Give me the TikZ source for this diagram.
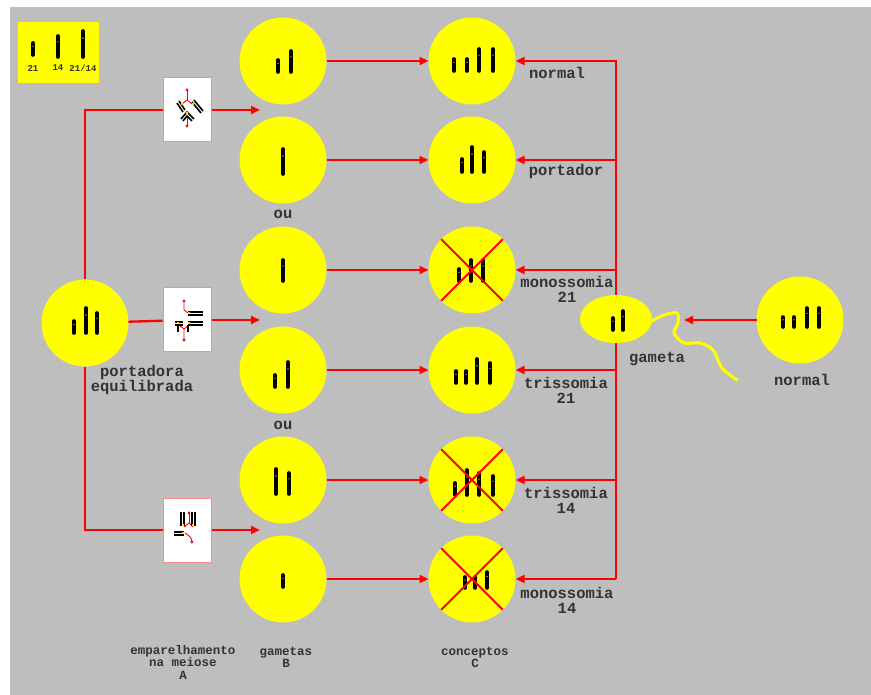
\documentclass[tikz,border=0pt]{standalone}
\usepackage{fontspec}
\setmonofont{Liberation Mono}
\usepackage{tikz}
\usetikzlibrary{positioning,arrows.meta,calc,shapes.geometric}

\definecolor{panel}{RGB}{190,190,190}
\definecolor{cellyellow}{RGB}{255,255,0}

% one chromosome: x, bottom y, length
\newcommand{\chromo}[3]{%
  \draw[line width=3.6pt,line cap=round] (#1,#2) -- ++(0,{-(#3)});
  \fill[yellow!60!black] (#1,#2) ++(0,{-0.72*(#3)}) circle (0.8pt);}

\begin{document}
\begin{tikzpicture}[x=1pt,y=-1pt,
  cell/.style={circle,fill=cellyellow,minimum size=87pt,inner sep=0pt,outer sep=0pt},
  meiobox/.style={draw=red!45,line width=1pt,fill=white,minimum width=48pt,minimum height=64pt,inner sep=0pt},
  link/.style={red,line width=2.3pt},
  arr/.style={link,-{Triangle[length=9pt,width=8pt]}},
  cross/.style={red,line width=1.8pt},
  lbl/.style={font=\fontsize{15.5}{15}\selectfont\ttfamily\bfseries,text=black!80,align=center,inner sep=0pt},
  coltext/.style={font=\fontsize{12.5}{12.5}\selectfont\ttfamily\bfseries,text=black!80,align=center,inner sep=0pt},
  keytext/.style={font=\fontsize{9}{9}\selectfont\ttfamily\bfseries,text=black!80,inner sep=0pt}]
  \useasboundingbox (0,0) rectangle (871,695);
  \fill[panel] (10,7) rectangle (871,695);

  % key: the three chromosome types
  \node[fill=cellyellow,minimum width=81pt,minimum height=61pt,inner sep=0pt] (key) at (58.5,52.5) {};
  \chromo{33}{55}{12}
  \chromo{58}{57}{21}
  \chromo{83}{57}{26}
  \node[keytext] (k21) at (33,68) {21};
  \node[keytext] (k14) at (58,68) {14};
  \node[keytext] (k2114) at (83,68) {21/14};

  % balanced carrier
  \node[cell] (pe) at (85,323) {};
  \node[lbl] (pelbl) at (142,380) {portadora\\equilibrada};

  % pairing in meiosis
  \node[meiobox] (m1) at (187,110) {};
  \node[meiobox] (m2) at (187,320) {};
  \node[meiobox] (m3) at (187,530) {};

  % gametes B
  \node[cell] (g1) at (283,61) {};
  \node[cell,below=12pt of g1] (g2) {};
  \node[cell,below=23pt of g2] (g3) {};
  \node[cell,below=13pt of g3] (g4) {};
  \node[cell,below=23pt of g4] (g5) {};
  \node[cell,below=12pt of g5] (g6) {};
  \node[lbl] (ou1) at (283,214) {ou};
  \node[lbl] (ou2) at (283,425) {ou};

  % conceptuses C
  \node[cell,right=102pt of g1] (c1) {};
  \node[cell,right=102pt of g2] (c2) {};
  \node[cell,right=102pt of g3] (c3) {};
  \node[cell,right=102pt of g4] (c4) {};
  \node[cell,right=102pt of g5] (c5) {};
  \node[cell,right=102pt of g6] (c6) {};

  % chromosomes in each cell
  \chromo{74}{333}{12} \chromo{86}{333}{25} \chromo{97}{333}{20}
  \chromo{278}{72}{12} \chromo{291}{72}{21}
  \chromo{283}{174}{25}
  \chromo{283}{281}{21}
  \chromo{275}{387}{12} \chromo{288}{387}{25}
  \chromo{276}{494}{25} \chromo{289}{494}{21}
  \chromo{283}{587}{12}
  \chromo{454}{71}{12} \chromo{467}{71}{12} \chromo{479}{71}{22} \chromo{493}{71}{22}
  \chromo{462}{172}{13} \chromo{472}{172}{25} \chromo{484}{172}{20}
  \chromo{459}{281}{12} \chromo{471}{281}{21} \chromo{483}{281}{21}
  \chromo{456}{383}{12} \chromo{466}{383}{12} \chromo{477}{383}{24} \chromo{490}{383}{20}
  \chromo{455}{495}{12} \chromo{467}{495}{25} \chromo{479}{495}{22} \chromo{493}{495}{19}
  \chromo{465}{588}{11} \chromo{475}{588}{11} \chromo{487}{588}{16}

  % non-viable conceptuses
  \foreach \c in {c3,c5,c6}{
    \draw[cross] (\c.north west) -- (\c.south east);
    \draw[cross] (\c.north east) -- (\c.south west);
  }

  % meiosis icons
  \begin{scope}[shift={(m1)}]
    \draw[red,line width=0.9pt,-{Triangle[length=3pt,width=3pt]}] (0,-10) -- (0,-22);
    \draw[red,line width=0.9pt] (-5,-6) -- (0,-10) -- (5,-6);
    \draw[red,line width=0.9pt,-{Triangle[length=3pt,width=3pt]}] (0,7) -- (0,18);
    \draw[line width=1.6pt] (-10,-7) -- (-4,2) (-8,-9) -- (-2,0);
    \draw[line width=1.6pt] (5,-8) -- (14,3) (7,-10) -- (16,1);
    \draw[line width=1.6pt] (-6,9) -- (0,2) -- (7,9) (-4,11) -- (0,6) -- (5,11);
    \fill[yellow] (-5,-6) circle (1.3pt) (6,-6) circle (1.3pt) (0,3) circle (1.3pt);
  \end{scope}
  \begin{scope}[shift={(m2)}]
    \draw[red,line width=0.9pt,-{Triangle[length=3pt,width=3pt]}] (1,-7) -- (-3,-10) -- (-3,-21);
    \draw[red,line width=0.9pt,-{Triangle[length=3pt,width=3pt]}] (-8,5) -- (-3,9) -- (-3,22);
    \draw[red,line width=0.9pt] (2,5) -- (-3,9);
    \draw[line width=1.6pt] (1,-8) -- (16,-8) (1,-5) -- (16,-5);
    \draw[line width=1.6pt] (1,2) -- (16,2) (1,5) -- (16,5);
    \draw[line width=1.6pt] (-12,2) -- (-4,2) (-12,5) -- (-4,5);
    \draw[line width=1.6pt] (-9,5) -- (-9,12) (1,5) -- (1,12);
    \fill[yellow] (2,-7) circle (1.3pt) (-9,3) circle (1.3pt) (2,3) circle (1.3pt);
  \end{scope}
  \begin{scope}[shift={(m3)}]
    \draw[red,line width=0.9pt,-{Triangle[length=3pt,width=3pt]}] (2,-7) -- (2,-19);
    \draw[red,line width=0.9pt] (-3,-3) -- (2,-7) -- (6,-3);
    \draw[red,line width=0.9pt,-{Triangle[length=3pt,width=3pt]}] (-2,3) to[bend left=30] (5,14);
    \draw[line width=1.6pt] (-6,-18) -- (-6,-4) (-3,-18) -- (-3,-4);
    \draw[line width=1.6pt] (5,-18) -- (5,-4) (8,-18) -- (8,-4);
    \draw[line width=1.6pt] (-13,2) -- (-3,2) (-13,5) -- (-3,5);
    \fill[yellow] (-4,-5) circle (1.3pt) (6,-5) circle (1.3pt) (-4,3) circle (1.3pt);
  \end{scope}

  % connections: carrier -> pairing -> gametes
  \coordinate (t1) at (260,110);
  \coordinate (t2) at (260,320);
  \coordinate (t3) at (260,530);
  \draw[link] (pe.north) |- (m1);
  \draw[link] (pe) -- (m2);
  \draw[link] (pe.south) |- (m3);
  \draw[arr] (m1) -- (t1);
  \draw[arr] (m2) -- (t2);
  \draw[arr] (m3) -- (t3);

  % gametes -> conceptuses
  \foreach \i in {1,...,6}
    \draw[arr] (g\i) -- (c\i);

  % normal gamete joining each conceptus
  \coordinate (bartop) at (616,61);
  \coordinate (barbot) at (616,579);
  \draw[arr] (barbot) -- (bartop) -- (c1);
  \draw[arr] (barbot) -- (c6);
  \foreach \i in {2,...,5}
    \draw[arr] (bartop |- c\i) -- (c\i);

  % gamete from the normal parent
  \node[ellipse,fill=cellyellow,minimum width=72pt,minimum height=48pt,inner sep=0pt] (gam) at (616,319) {};
  \draw[cellyellow,line width=3pt,line cap=round] plot[smooth] coordinates
    {(650,322) (664,315) (677,313) (678,323) (674,333) (684,343) (700,343) (713,350) (722,368) (737,380)};
  \chromo{613}{330}{12} \chromo{623}{330}{19}
  \node[lbl] (gamlbl) at (657,359) {gameta};

  \node[cell] (nor) at (800,320) {};
  \chromo{783}{327}{10} \chromo{794}{327}{10} \chromo{807}{327}{19} \chromo{819}{327}{19}
  \node[lbl] (norlbl) at (802,380) {normal};
  \coordinate (t4) at (684,320);
  \draw[arr] (nor) -- (t4);

  % outcome labels
  \node[lbl] (o1) at (557,73) {normal};
  \node[lbl] (o2) at (566,171) {portador};
  \node[lbl] (o3) at (567,289.5) {monossomia\\21};
  \node[lbl] (o4) at (566,390) {trissomia\\21};
  \node[lbl] (o5) at (566,500.5) {trissomia\\14};
  \node[lbl] (o6) at (567,600.5) {monossomia\\14};

  % column captions
  \node[coltext] (colA) at (183,662) {emparelhamento\\na meiose\\A};
  \node[coltext] (colB) at (286,657.5) {gametas\\B};
  \node[coltext] (colC) at (475,657.5) {conceptos\\C};
\end{tikzpicture}
\end{document}
